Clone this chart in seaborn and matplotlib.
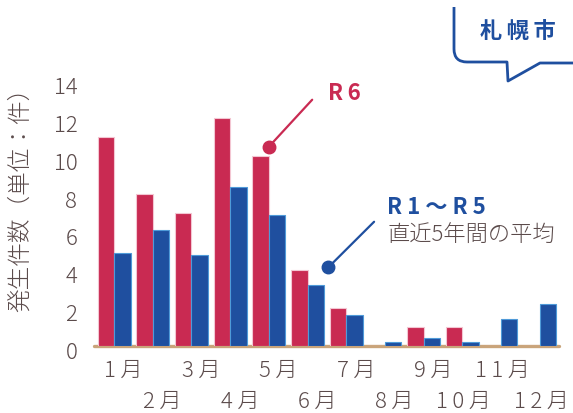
import matplotlib
matplotlib.use("Agg")
import matplotlib.pyplot as plt
import matplotlib.transforms as mtransforms
from matplotlib.path import Path
from matplotlib.patches import PathPatch
import seaborn as sns
import pandas as pd

# Monthly counts
months = ["1月", "2月", "3月", "4月", "5月", "6月",
          "7月", "8月", "9月", "10月", "11月", "12月"]
r6_counts = [11, 8, 7, 12, 10, 4, 2, 0, 1, 1, 0, 0]
avg_r1_r5 = [4.9, 6.1, 4.8, 8.4, 6.9, 3.2, 1.6, 0.2, 0.4, 0.2, 1.4, 2.2]
series_names = ["R6", "R1～R5"]
y_ticks = [0, 2, 4, 6, 8, 10, 12, 14]

RED = "#c92a52"
BLUE = "#1f4f9f"
TEXT = "#5b4b4b"
TAN = "#c9a47a"
THIN = "\u2009"

sns.set_style("white")
plt.rcParams["font.family"] = ["Noto Sans CJK JP", "DejaVu Sans"]


def spaced(s):
    return THIN.join(s)


df = pd.DataFrame({
    "month": months * 2,
    "count": r6_counts + avg_r1_r5,
    "series": [series_names[0]] * len(months) + [series_names[1]] * len(months),
})

W, H = 573, 414
fig = plt.figure(figsize=(W / 100, H / 100), dpi=100)


def px(x, y):
    return (x / W, 1 - y / H)


ax = fig.add_axes([94 / W, (H - 346.7) / H, 465 / W, 265.3 / H])

sns.barplot(data=df, x="month", y="count", hue="series",
            order=months, hue_order=series_names,
            palette=[RED, BLUE], saturation=1, width=0.85, gap=0,
            legend=False, ax=ax, zorder=2)

edge_cols = ["#f3c6d2", "#4f9ad8"]
for cont, ec in zip(ax.containers, edge_cols):
    for bar in cont:
        bar.set_edgecolor(ec)
        bar.set_linewidth(0.8)

ax.set_xlim(-0.52, 11.5)
ax.set_ylim(0, 14)
for s in ax.spines.values():
    s.set_visible(False)
ax.axhline(0, color=TAN, lw=2.4, zorder=1, clip_on=False)

ax.set_yticks(y_ticks)
ax.set_yticklabels([str(v) for v in y_ticks])
ax.tick_params(axis="y", length=0, pad=12, labelsize=16, labelcolor=TEXT)
ax.tick_params(axis="x", length=0, labelbottom=False)
shift = mtransforms.ScaledTranslation(0, -4 / 100, fig.dpi_scale_trans)
for lab in ax.get_yticklabels():
    lab.set_transform(lab.get_transform() + shift)
    lab.set_fontweight("light")
ax.set_xlabel("")
ax.set_ylabel("")

# Month labels in two staggered rows, right-aligned just past each group
trans = mtransforms.offset_copy(ax.get_xaxis_transform(), fig=fig, x=29, y=0, units="dots")
for i, m in enumerate(months):
    yy = -0.0916 if i % 2 == 0 else -0.2084
    ax.text(i, yy, spaced(m), transform=trans, ha="right", va="center",
            fontsize=16, color=TEXT, fontweight="light")

fig.text(20 / W, 1 - 194 / H, "発生件数（単位：件）", rotation=90,
         ha="center", va="center", fontsize=17, color=TEXT, fontweight="light")

# Series call-outs
ax.plot([4.0, 5.12], [10.5, 12.98], color=RED, lw=1.6, zorder=3)
ax.plot([4.0], [10.5], "o", color=RED, ms=9, zorder=3)
ax.text(5.94, 13.35, spaced("R6"), ha="center", va="center", fontsize=16,
        fontweight="bold", color=RED)

ax.plot([5.54, 6.72], [4.14, 6.54], color=BLUE, lw=1.6, zorder=3)
ax.plot([5.54], [4.14], "o", color=BLUE, ms=9, zorder=3)
ax.text(7.05, 7.32, "R 1 ～ R 5", ha="left", va="center", fontsize=16,
        fontweight="bold", color=BLUE)
ax.text(7.08, 5.89, "直近5年間の平均", ha="left", va="center", fontsize=16,
        color=TEXT, fontweight="light")

# Speech-bubble tag in the top-right corner
verts = [px(454, 8), px(454, 50), px(454, 63), px(467, 63), px(507, 63),
         px(508, 82), px(540, 64), px(575, 64)]
codes = [Path.MOVETO, Path.LINETO, Path.CURVE3, Path.CURVE3, Path.LINETO,
         Path.LINETO, Path.LINETO, Path.LINETO]
fig.patches.append(PathPatch(Path(verts, codes), transform=fig.transFigure,
                             fill=False, edgecolor=BLUE, lw=2, capstyle="butt",
                             joinstyle="round"))
fig.text(518 / W, 1 - 32 / H, spaced("札幌市"), ha="center", va="center",
         fontsize=16, fontweight="bold", color=BLUE)

fig.savefig("out.png", dpi=100)
